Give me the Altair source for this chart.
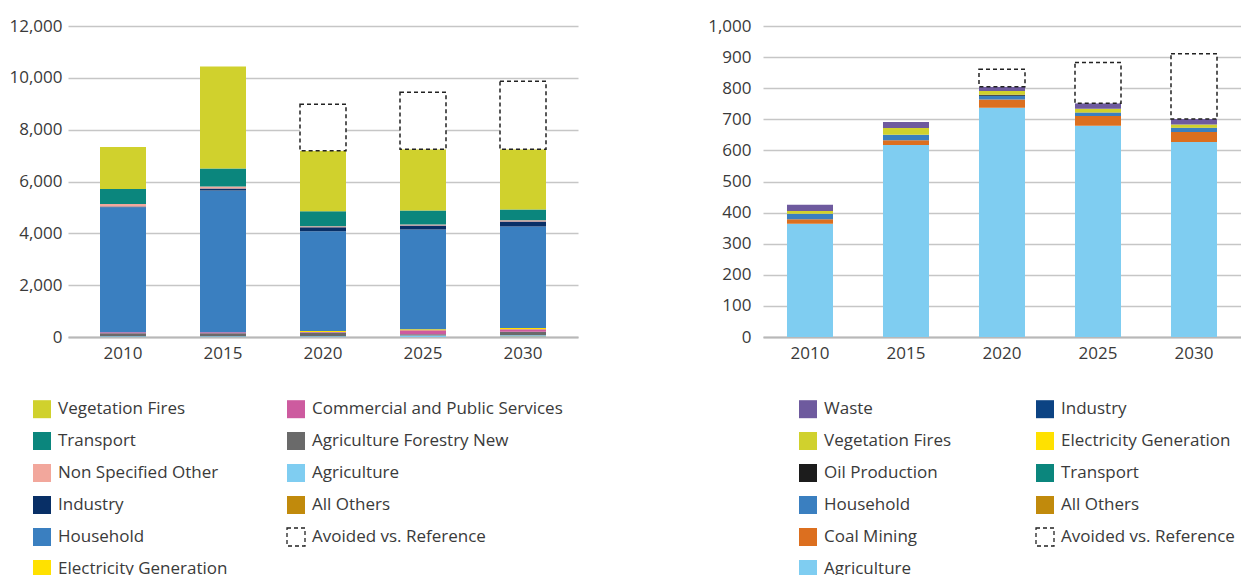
import altair as alt
import pandas as pd

years = ["2010", "2015", "2020", "2025", "2030"]

# ---------------- Left chart (stack order: bottom -> top) ----------------
left_categories = [
    "All Others", "Agriculture", "Agriculture Forestry New",
    "Commercial and Public Services", "Electricity Generation", "Household",
    "Industry", "Non Specified Other", "Transport", "Vegetation Fires",
    "Avoided vs. Reference",
]
left_all_others = [0, 0, 0, 0, 20]
left_agriculture = [30, 30, 30, 60, 50]
left_agri_forestry_new = [110, 110, 140, 50, 130]
left_commercial = [40, 40, 25, 155, 100]
left_electricity = [5, 5, 35, 35, 50]
left_household = [4820, 5470, 3850, 3850, 3910]
left_industry = [30, 77, 155, 155, 195]
left_non_specified = [100, 77, 40, 40, 50]
left_transport = [580, 695, 580, 540, 415]
left_vegetation_fires = [1620, 3937, 2330, 2355, 2320]
left_avoided = [0, 0, 1800, 2200, 2625]
left_series = [
    left_all_others, left_agriculture, left_agri_forestry_new, left_commercial,
    left_electricity, left_household, left_industry, left_non_specified,
    left_transport, left_vegetation_fires, left_avoided,
]
# legend entries (filled column by column)
left_legend_order = [
    "Vegetation Fires", "Transport", "Non Specified Other", "Industry",
    "Household", "Electricity Generation",
    "Commercial and Public Services", "Agriculture Forestry New",
    "Agriculture", "All Others", "Avoided vs. Reference",
]
left_colors = {
    "Vegetation Fires": "#D0D12D",
    "Transport": "#0B867D",
    "Non Specified Other": "#F2A79C",
    "Industry": "#082F66",
    "Household": "#3A7FC0",
    "Electricity Generation": "#FFE100",
    "Commercial and Public Services": "#CD5B9F",
    "Agriculture Forestry New": "#6A6A6A",
    "Agriculture": "#7FCDF1",
    "All Others": "#C18A0C",
    "Avoided vs. Reference": "#FFFFFF",
}
left_ticks = [0, 2000, 4000, 6000, 8000, 10000, 12000]

# ---------------- Right chart (stack order: bottom -> top) ----------------
right_categories = [
    "All Others", "Transport", "Electricity Generation", "Industry",
    "Agriculture", "Coal Mining", "Household", "Oil Production",
    "Vegetation Fires", "Waste", "Avoided vs. Reference",
]
right_all_others = [0, 0, 0, 0, 0]
right_transport = [0, 0, 0, 0, 0]
right_electricity = [0, 0, 0, 0, 0]
right_industry = [0, 0, 0, 0, 0]
right_agriculture = [364, 617, 737, 679, 627]
right_coal_mining = [15, 16, 27, 32, 32]
right_household = [17, 17, 12, 10, 13]
right_oil_production = [0, 0, 3, 1, 1]
right_vegetation_fires = [9, 22, 12, 12, 10]
right_waste = [20, 19, 14, 18, 18]
right_avoided = [0, 0, 56, 131, 210]
right_series = [
    right_all_others, right_transport, right_electricity, right_industry,
    right_agriculture, right_coal_mining, right_household, right_oil_production,
    right_vegetation_fires, right_waste, right_avoided,
]
right_legend_order = [
    "Waste", "Vegetation Fires", "Oil Production", "Household",
    "Coal Mining", "Agriculture",
    "Industry", "Electricity Generation", "Transport", "All Others",
    "Avoided vs. Reference",
]
right_colors = {
    "Waste": "#6E5A9E",
    "Industry": "#0C4383",
    "Vegetation Fires": "#D0D12D",
    "Electricity Generation": "#FFE100",
    "Oil Production": "#1C1C1C",
    "Transport": "#0B867D",
    "Household": "#3A7FC0",
    "All Others": "#C18A0C",
    "Coal Mining": "#DC6F1F",
    "Avoided vs. Reference": "#FFFFFF",
    "Agriculture": "#7FCDF1",
}
right_ticks = [0, 100, 200, 300, 400, 500, 600, 700, 800, 900, 1000]

AVOIDED = "Avoided vs. Reference"
FONT = "Open Sans"
TEXT = "#3A3A3A"


def build_df(categories, series):
    rows = []
    for k, (cat, vals) in enumerate(zip(categories, series)):
        for yr, v in zip(years, vals):
            if v > 0:
                rows.append({"year": yr, "category": cat, "value": v, "order": k})
    return pd.DataFrame(rows)


def panel(categories, series, legend_order, colors, ticks, width,
          pad_inner, pad_outer, legend_x, col_pad, label_pad):
    df = build_df(categories, series)
    leg = alt.Legend(
        title=None, orient="none", legendX=legend_x, legendY=373,
        columns=2, columnPadding=col_pad, rowPadding=8, padding=0,
        symbolType="square", symbolSize=324, symbolStrokeWidth=1.3,
        labelFont=FONT, labelFontSize=17, labelColor=TEXT,
        labelOffset=6, labelLimit=400,
    )
    return alt.Chart(df).mark_bar(strokeWidth=1.5).encode(
        x=alt.X("year:N", sort=years,
                scale=alt.Scale(paddingInner=pad_inner, paddingOuter=pad_outer),
                axis=alt.Axis(title=None, ticks=False, labelAngle=0,
                              labelPadding=8, domainColor="#B8B8B8",
                              domainWidth=2, grid=False)),
        y=alt.Y("value:Q", stack="zero",
                scale=alt.Scale(domain=[ticks[0], ticks[-1]], nice=False),
                axis=alt.Axis(title=None, values=ticks, format=",d",
                              domain=False, ticks=False, labelPadding=label_pad,
                              gridColor="#C6C6C6", gridWidth=1.5)),
        color=alt.Color("category:N",
                        scale=alt.Scale(domain=legend_order,
                                        range=[colors[c] for c in legend_order]),
                        legend=leg),
        stroke=alt.Stroke("category:N",
                          scale=alt.Scale(domain=legend_order,
                                          range=["#222222" if c == AVOIDED else "transparent"
                                                 for c in legend_order]),
                          legend=leg),
        strokeDash=alt.StrokeDash("category:N",
                                  scale=alt.Scale(domain=legend_order,
                                                  range=[[4, 3] if c == AVOIDED else [1, 0]
                                                         for c in legend_order]),
                                  legend=leg),
        order=alt.Order("order:Q", sort="ascending"),
    ).properties(width=width, height=311)


left = panel(left_categories, left_series, left_legend_order, left_colors,
             left_ticks, 510, 0.54, 0.32, -36, 56, 6)
right = panel(right_categories, right_series, right_legend_order, right_colors,
              right_ticks, 478, 0.5208, 0.25, 35, 81, 12)

chart = alt.hconcat(left, right, spacing=185, bounds="flush").resolve_scale(
    color="independent", stroke="independent", strokeDash="independent",
    x="independent", y="independent",
).resolve_legend(
    color="independent", stroke="independent", strokeDash="independent",
).properties(
    padding={"top": 9, "left": 0, "right": 0, "bottom": 0},
).configure_view(stroke=None).configure_axis(
    labelFont=FONT, labelFontSize=17, labelColor=TEXT,
)

chart.save("out.html", embed_options={"renderer": "svg", "actions": False})
